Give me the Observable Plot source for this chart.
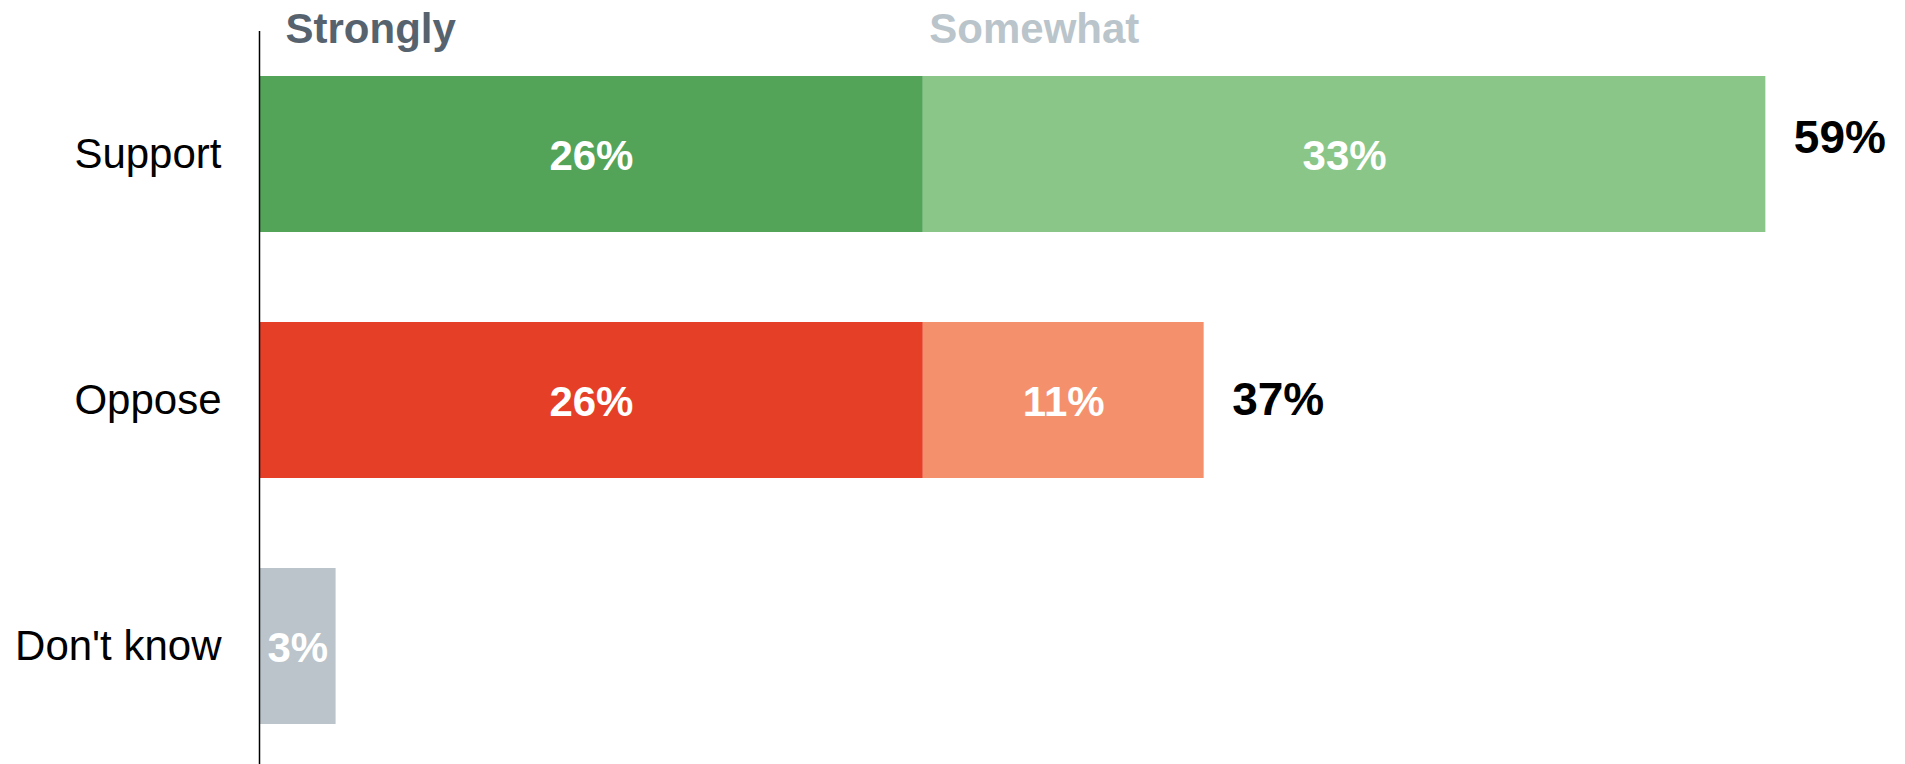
<!DOCTYPE html>
<html>
<head>
<meta charset="utf-8">
<script src="https://cdn.jsdelivr.net/npm/d3@7"></script>
<script src="https://cdn.jsdelivr.net/npm/@observablehq/plot@0.6"></script>
<style>
  html, body { margin: 0; padding: 0; background: #fff; overflow: hidden; }
  svg { font-family: "Liberation Sans", Arial, sans-serif; display: block; }
</style>
</head>
<body>
<div id="chart"></div>
<script>
// Data
const categories = ["Support", "Oppose", "Don't know"];
const segResponse = ["Support", "Support", "Oppose", "Oppose", "Don't know"];
const segIntensity = ["Strongly", "Somewhat", "Strongly", "Somewhat", "Unsure"];
const segValues = [26, 33, 26, 11, 3];
const totalResponse = ["Support", "Oppose"];
const totalValues = [59, 37];
const legendLabels = ["Strongly", "Somewhat"];

const segments = segResponse.map((r, i) => ({
  response: r, intensity: segIntensity[i], value: segValues[i], key: r + "|" + segIntensity[i]
}));
const totals = totalResponse.map((r, i) => ({response: r, value: totalValues[i]}));

const colorDomain = ["Support|Strongly", "Support|Somewhat", "Oppose|Strongly", "Oppose|Somewhat", "Don't know|Unsure"];
const colorRange = ["#53a459", "#8ac688", "#e63f27", "#f5906d", "#bac4ca"];

const font = "Liberation Sans, Arial, sans-serif";

const chart = Plot.plot({
  width: 1905,
  height: 764,
  marginLeft: 259,
  marginRight: 12,
  marginTop: 36,
  marginBottom: 0,
  style: {fontFamily: font, background: "#fff"},
  x: {domain: [0, 64], axis: null},
  y: {domain: categories, axis: null, paddingInner: 0.366, paddingOuter: 0.1626},
  color: {domain: colorDomain, range: colorRange},
  marks: [
    Plot.barX(segments, Plot.stackX({x: "value", y: "response", fill: "key"})),
    Plot.textX(segments, Plot.stackX({
      x: "value", y: "response", text: d => d.value + "%",
      fill: "white", fontSize: 42, fontWeight: "bold", dy: 2
    })),
    Plot.textX(totals.filter(d => d.response === "Support"), {
      x: "value", y: "response", text: d => d.value + "%",
      textAnchor: "start", dx: 28, dy: -16, fontSize: 46, fontWeight: "bold", fill: "black"
    }),
    Plot.textX(totals.filter(d => d.response === "Oppose"), {
      x: "value", y: "response", text: d => d.value + "%",
      textAnchor: "start", dx: 28, dy: 0, fontSize: 46, fontWeight: "bold", fill: "black"
    }),
    Plot.text([legendLabels[0]], {
      x: () => 0, text: d => d, frameAnchor: "top", lineAnchor: "middle", textAnchor: "start",
      dx: 26, dy: -7, fontSize: 42, fontWeight: "bold", fill: "#56636e"
    }),
    Plot.text([legendLabels[1]], {
      x: () => segValues[0], text: d => d, frameAnchor: "top", lineAnchor: "middle", textAnchor: "start",
      dx: 6, dy: -7, fontSize: 42, fontWeight: "bold", fill: "#bac4cb"
    }),
    Plot.axisY({tickSize: 0, tickPadding: 38, fontSize: 42, label: null, fill: "black"}),
    Plot.ruleX([0], {stroke: "black", strokeWidth: 1.5, insetTop: -5})
  ]
});
document.getElementById("chart").appendChild(chart);
</script>
</body>
</html>
